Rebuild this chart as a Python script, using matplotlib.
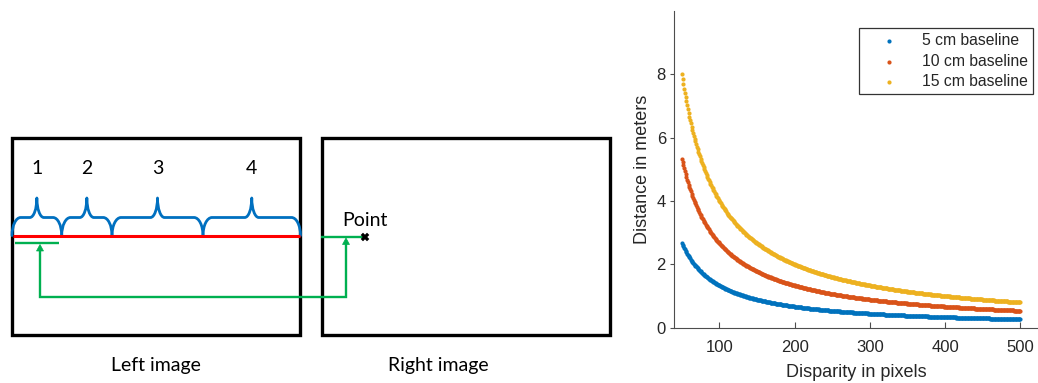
import numpy as np
import matplotlib
matplotlib.use("Agg")
import matplotlib.pyplot as plt
from matplotlib.path import Path
from matplotlib.patches import PathPatch, Rectangle, Polygon

plt.rcParams["font.family"] = ["Liberation Sans", "DejaVu Sans"]

# ---- data -------------------------------------------------------------
baselines_cm = [5, 10, 15]
series_labels = ["5 cm baseline", "10 cm baseline", "15 cm baseline"]
series_colors = ["#0072BD", "#D95319", "#EDB120"]
focal_length_px = 2667          # 15 cm baseline -> 8 m at 50 px disparity
disparity_px = np.arange(50, 501)
x_ticks = [100, 200, 300, 400, 500]
y_ticks = [0, 2, 4, 6, 8]
segment_labels = ["1", "2", "3", "4"]

W, H = 1038, 383
fig = plt.figure(figsize=(W / 100, H / 100), dpi=100)

# ---- schematic of the stereo pair (pixel coordinates) -----------------
sk = fig.add_axes([0, 0, 1, 1])
sk.set_xlim(0, W)
sk.set_ylim(H, 0)
sk.axis("off")

diag_font = "Lato"
diag_size = 14

frame_lw = 2.4
sk.add_patch(Rectangle((12.3, 137.7), 300 - 12.3, 335 - 137.7, fill=False,
                       ec="black", lw=frame_lw))
sk.add_patch(Rectangle((322, 138), 609.7 - 322, 335.3 - 138, fill=False,
                       ec="black", lw=frame_lw))

# scan line in the left image
sk.plot([12.5, 300], [236, 236], color="#ff0000", lw=2.2, solid_capstyle="butt")


def brace(x0, x1, yb=235.5, ys=217.5, yt=198.0):
    """Curly brace spanning x0..x1, opening downwards."""
    k = 0.5523
    xm = 0.5 * (x0 + x1)
    r1 = min(9.0, (xm - x0) * 0.35)
    r2 = min(7.0, (xm - x0) * 0.3)
    verts = [
        (x0, yb),
        (x0, yb + k * (ys - yb)), (x0 + r1 * (1 - k), ys), (x0 + r1, ys),
        (xm - r2, ys),
        (xm - r2 + k * r2, ys), (xm, yt + k * (ys - yt)), (xm, yt),
        (xm, yt + k * (ys - yt)), (xm + r2 - k * r2, ys), (xm + r2, ys),
        (x1 - r1, ys),
        (x1 - r1 * (1 - k), ys), (x1, yb + k * (ys - yb)), (x1, yb),
    ]
    codes = ([Path.MOVETO] + [Path.CURVE4] * 3 + [Path.LINETO]
             + [Path.CURVE4] * 6 + [Path.LINETO] + [Path.CURVE4] * 3)
    return PathPatch(Path(verts, codes), fill=False, ec="#0070C0", lw=2.0,
                     capstyle="round", joinstyle="round")


brace_edges = [12, 61.7, 112, 203, 300.5]
for i, lab in enumerate(segment_labels):
    a, b = brace_edges[i], brace_edges[i + 1]
    sk.add_patch(brace(a, b))
    sk.text(0.5 * (a + b), 169, lab, ha="center", va="center",
            fontsize=diag_size, family=diag_font, color="black")

green = "#00B050"
g_lw = 1.7
sk.plot([15, 58.5], [243.3, 243.3], color=green, lw=g_lw, solid_capstyle="butt")
sk.plot([40, 40, 346, 346], [249, 296.7, 296.7, 243], color=green, lw=g_lw,
        solid_joinstyle="miter")
sk.plot([321, 365], [236.7, 236.7], color=green, lw=g_lw, solid_capstyle="butt")


def arrow_head(x, y_tip, w=7.0, h=6.5):
    return Polygon([(x, y_tip), (x - w / 2, y_tip + h), (x + w / 2, y_tip + h)],
                   closed=True, fc=green, ec=green, lw=0.5)


sk.add_patch(arrow_head(40, 244.5))
sk.add_patch(arrow_head(346, 238))
sk.plot([365], [236.7], marker="X", ms=5.5, color="black", mec="black", mew=0.3)

sk.text(342, 220, "Point", ha="left", va="center", fontsize=diag_size, family=diag_font)
sk.text(155.5, 366, "Left image", ha="center", va="center", fontsize=diag_size,
        family=diag_font)
sk.text(438.5, 366, "Right image", ha="center", va="center", fontsize=diag_size,
        family=diag_font)

# ---- distance vs disparity ------------------------------------------
x0_px, y0_px, ytop_px = 674.3, 327.7, 11.0
ax = fig.add_axes([x0_px / W, 1 - y0_px / H, (W - x0_px) / W, (y0_px - ytop_px) / H])
ax.patch.set_alpha(0)

for b_cm, lab, col in zip(baselines_cm, series_labels, series_colors):
    distance_m = focal_length_px * (b_cm / 100.0) / disparity_px
    ax.scatter(disparity_px, distance_m, s=9, lw=0, color=col, label=lab,
               snap=False, antialiased=True)

ax.set_xlim(40, 40 + (W - x0_px) / 0.752)
ax.set_ylim(0, 10)
ax.set_xticks(x_ticks)
ax.set_yticks(y_ticks)

axis_col = "#4d4d4d"
text_col = "#262626"
for s in ("top", "right"):
    ax.spines[s].set_visible(False)
for s in ("left", "bottom"):
    ax.spines[s].set_color(axis_col)
    ax.spines[s].set_linewidth(0.8)

ax.tick_params(axis="x", direction="in", length=4, width=0.8, color=axis_col,
               labelsize=12, labelcolor=text_col, pad=9)
ax.tick_params(axis="y", direction="out", length=3, width=0.8, color=axis_col,
               labelsize=12, labelcolor=text_col, pad=3)

ax.set_xlabel("Disparity in pixels", fontsize=13, color=text_col, labelpad=6)
ax.set_ylabel("Distance in meters", fontsize=13, color=text_col, labelpad=4)

leg = ax.legend(loc="upper left", bbox_to_anchor=((859.3 - x0_px) / (W - x0_px),
                                                   (y0_px - 28.3) / (y0_px - ytop_px)),
                borderaxespad=0, frameon=True, fancybox=False,
                prop={"size": 11.3}, scatterpoints=1,
                handlelength=3.2, handletextpad=0.45, labelspacing=0.35,
                borderpad=0.32)
leg.get_frame().set_edgecolor("black")
leg.get_frame().set_linewidth(0.9)
for t in leg.get_texts():
    t.set_color(text_col)

fig.savefig("out.png", dpi=100)
